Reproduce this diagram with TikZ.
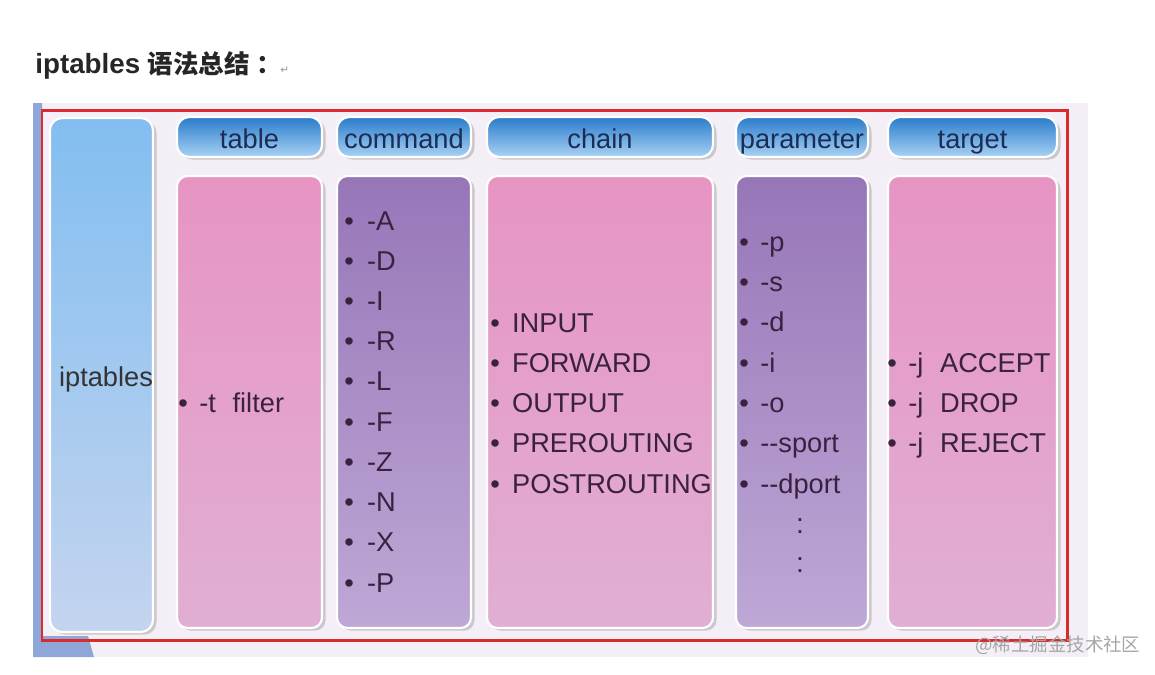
\documentclass[tikz,border=0pt]{standalone}
\usepackage{fontspec}
\setmainfont{Liberation Sans}
\newfontfamily\cjk{Noto Sans CJK SC}
\newfontfamily\sym{DejaVu Sans}
\usetikzlibrary{shadows}

\definecolor{panelbg}{HTML}{F4EFF6}
\definecolor{edgeblue}{HTML}{8FA6D8}
\definecolor{framered}{HTML}{D92B2B}
\definecolor{iptop}{HTML}{82BEF0}
\definecolor{ipbot}{HTML}{C4D4EF}
\definecolor{hdtop}{HTML}{2A7CCB}
\definecolor{hdbot}{HTML}{A8D2F4}
\definecolor{pktop}{HTML}{E794C3}
\definecolor{pkbot}{HTML}{E1AFD3}
\definecolor{pptop}{HTML}{9776B8}
\definecolor{ppbot}{HTML}{BEA8D6}
\definecolor{hdtext}{HTML}{1B2D55}
\definecolor{bodytext}{HTML}{3A2140}

\begin{document}
\begin{tikzpicture}[x=0.02cm,y=-0.02cm,
  shade/.style={drop shadow={shadow xshift=2pt,shadow yshift=-1.5pt,opacity=0.35}},
  hdr/.style={top color=hdtop,bottom color=hdbot,draw=white,line width=1.2pt,rounded corners=7pt,shade},
  pinkcol/.style={top color=pktop,bottom color=pkbot,draw=white,line width=1.2pt,rounded corners=6pt,shade},
  purplecol/.style={top color=pptop,bottom color=ppbot,draw=white,line width=1.2pt,rounded corners=6pt,shade},
  hdlbl/.style={anchor=base,inner sep=0pt,text=hdtext,font=\fontsize{15.5}{18}\selectfont},
  itm/.style={anchor=base west,inner sep=0pt,text=bodytext,font=\fontsize{15.5}{18}\selectfont}]
\useasboundingbox (0,0) rectangle (1155,674);
\fill[white] (0,0) rectangle (1155,674);

% title
\node[anchor=base west,inner sep=0pt,text=black!85,font=\fontsize{15.8}{18}\selectfont\bfseries] (title) at (35,73) {iptables {\cjk\fontsize{14.5}{18}\selectfont 语法总结\hspace{4pt}\makebox[11pt][l]{：}}};
\node[anchor=base west,inner sep=0pt,text=black!40,font=\sym\fontsize{6}{7}\selectfont] (ret) at (280,73) {↵};

% panel and frame
\fill[panelbg] (33,103) rectangle (1088,657);
\fill[edgeblue] (33,103) -- (42,103) -- (42,636) -- (88,636) -- (94,657) -- (33,657) -- cycle;
\draw[framered,line width=1.7pt] (42,110) rectangle (1067,640);

% columns
\path[top color=iptop,bottom color=ipbot,draw=white,line width=1.2pt,rounded corners=7pt,shade] (50,118) rectangle (153,632);
\path[hdr] (177,117) rectangle (322,157);
\path[hdr] (337,117) rectangle (471,157);
\path[hdr] (487,117) rectangle (713,157);
\path[hdr] (736,117) rectangle (868,157);
\path[hdr] (888,117) rectangle (1057,157);
\path[pinkcol] (177,176) rectangle (322,628);
\path[purplecol] (337,176) rectangle (471,628);
\path[pinkcol] (487,176) rectangle (713,628);
\path[purplecol] (736,176) rectangle (868,628);
\path[pinkcol] (888,176) rectangle (1057,628);

% headers
\node[hdlbl,text=black!80] (ipt) at (106,386) {iptables};
\node[hdlbl] (hd1) at (249.5,148) {table};
\node[hdlbl] (hd2) at (404,148) {command};
\node[hdlbl] (hd3) at (600,148) {chain};
\node[hdlbl] (hd4) at (802,148) {parameter};
\node[hdlbl] (hd5) at (972.5,148) {target};

% table
\node[itm] (tb1) at (178,412) {\textbullet\hspace{6.5pt}-t\hspace{9.5pt}filter};

% command
\node[itm] (cm1) at (344,230) {\textbullet\hspace{7.5pt}-A};
\node[itm] (cm2) at (344,270) {\textbullet\hspace{7.5pt}-D};
\node[itm] (cm3) at (344,310) {\textbullet\hspace{7.5pt}-I};
\node[itm] (cm4) at (344,350) {\textbullet\hspace{7.5pt}-R};
\node[itm] (cm5) at (344,390) {\textbullet\hspace{7.5pt}-L};
\node[itm] (cm6) at (344,431) {\textbullet\hspace{7.5pt}-F};
\node[itm] (cm7) at (344,471) {\textbullet\hspace{7.5pt}-Z};
\node[itm] (cm8) at (344,511) {\textbullet\hspace{7.5pt}-N};
\node[itm] (cm9) at (344,551) {\textbullet\hspace{7.5pt}-X};
\node[itm] (cm10) at (344,592) {\textbullet\hspace{7.5pt}-P};

% chain
\node[itm] (ch1) at (490,332) {\textbullet\hspace{7pt}INPUT};
\node[itm] (ch2) at (490,372) {\textbullet\hspace{7pt}FORWARD};
\node[itm] (ch3) at (490,412) {\textbullet\hspace{7pt}OUTPUT};
\node[itm] (ch4) at (490,452) {\textbullet\hspace{7pt}PREROUTING};
\node[itm] (ch5) at (490,493) {\textbullet\hspace{7pt}POSTROUTING};

% parameter
\node[itm] (pa1) at (739,251) {\textbullet\hspace{6.5pt}-p};
\node[itm] (pa2) at (739,291) {\textbullet\hspace{6.5pt}-s};
\node[itm] (pa3) at (739,331) {\textbullet\hspace{6.5pt}-d};
\node[itm] (pa4) at (739,372) {\textbullet\hspace{6.5pt}-i};
\node[itm] (pa5) at (739,412) {\textbullet\hspace{6.5pt}-o};
\node[itm] (pa6) at (739,452) {\textbullet\hspace{6.5pt}-{}-sport};
\node[itm] (pa7) at (739,493) {\textbullet\hspace{6.5pt}-{}-dport};
\node[itm,anchor=center,font=\fontsize{16}{18}\selectfont] (dt1) at (800,526) {:};
\node[itm,anchor=center,font=\fontsize{16}{18}\selectfont] (dt2) at (800,565) {:};

% target
\node[itm] (tg1) at (887,372) {\textbullet\hspace{6.5pt}-j\hspace{9.5pt}ACCEPT};
\node[itm] (tg2) at (887,412) {\textbullet\hspace{6.5pt}-j\hspace{9.5pt}DROP};
\node[itm] (tg3) at (887,452) {\textbullet\hspace{6.5pt}-j\hspace{9.5pt}REJECT};

% watermark
\node[anchor=west,inner sep=0pt,text=black!35,font=\cjk\fontsize{10.5}{12}\selectfont] (wm) at (975,645) {@稀土掘金技术社区};
\end{tikzpicture}
\end{document}
